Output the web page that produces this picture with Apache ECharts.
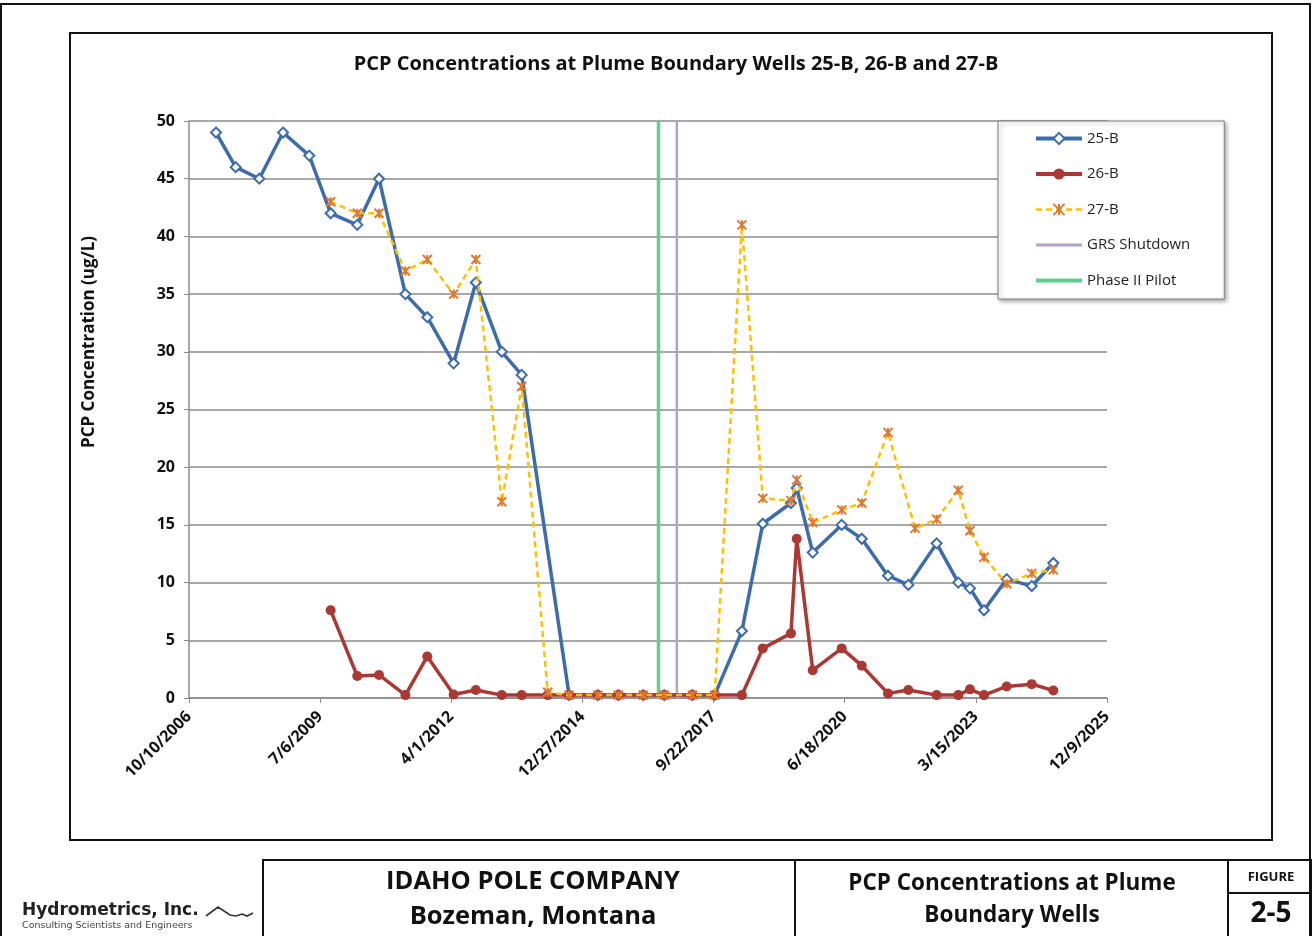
<!DOCTYPE html>
<html>
<head>
<meta charset="utf-8">
<title>PCP Concentrations at Plume Boundary Wells</title>
<script src="https://cdn.jsdelivr.net/npm/echarts@6/dist/echarts.min.js"></script>
<style>
  html, body { margin: 0; padding: 0; background: #fff; }
  #chart { width: 1312px; height: 936px; }
</style>
</head>
<body>
<div id="chart"></div>
<script>
// sample dates and PCP results (ug/L)
var dates25 = ['2007-05-04','2007-10-01','2008-03-29','2008-09-26','2009-04-14','2009-09-24','2010-04-15',
  '2010-09-28','2011-04-17','2011-10-01','2012-04-19','2012-10-05','2013-04-21','2013-09-20',
  '2014-09-16','2015-04-23','2015-09-27','2016-04-04','2016-09-11','2017-04-13','2017-09-30',
  '2018-04-26','2018-10-02','2019-05-05','2019-06-18','2019-10-18','2020-05-26','2020-10-26',
  '2021-05-14','2021-10-16','2022-05-20','2022-11-01','2023-01-29','2023-05-16','2023-11-05',
  '2024-05-14','2024-10-26'];
var pcp25 = [49, 46, 45, 49, 47, 42, 41,
  45, 35, 33, 29, 36, 30, 28,
  0.25, 0.25, 0.25, 0.25, 0.25, 0.25, 0.25,
  5.8, 15.1, 16.9, 18.2, 12.6, 15.0, 13.8,
  10.6, 9.8, 13.4, 10.0, 9.5, 7.6, 10.3,
  9.7, 11.7];

var dates26 = ['2009-09-24','2010-04-15','2010-09-28','2011-04-17','2011-10-01','2012-04-19','2012-10-05',
  '2013-04-21','2013-09-20','2014-04-06','2014-09-16','2015-04-23','2015-09-27','2016-04-04',
  '2016-09-11','2017-04-13','2017-09-30','2018-04-26','2018-10-02','2019-05-05','2019-06-18',
  '2019-10-18','2020-05-26','2020-10-26','2021-05-14','2021-10-16','2022-05-20','2022-11-01',
  '2023-01-29','2023-05-16','2023-11-05','2024-05-14','2024-10-26'];
var pcp26 = [7.6, 1.9, 2.0, 0.25, 3.6, 0.3, 0.7,
  0.25, 0.25, 0.25, 0.25, 0.25, 0.25, 0.25,
  0.25, 0.25, 0.25, 0.25, 4.3, 5.6, 13.8,
  2.4, 4.3, 2.8, 0.4, 0.7, 0.25, 0.25,
  0.75, 0.25, 1.0, 1.2, 0.65];

var dates27 = ['2009-09-24','2010-04-15','2010-09-28','2011-04-17','2011-10-01','2012-04-19','2012-10-05',
  '2013-04-21','2013-09-20','2014-04-06','2014-09-16','2015-04-23','2015-09-27','2016-04-04',
  '2016-09-11','2017-04-13','2017-09-30','2018-04-26','2018-10-02','2019-05-05','2019-06-18',
  '2019-10-18','2020-05-26','2020-10-26','2021-05-14','2021-12-06','2022-05-20','2022-11-01',
  '2023-01-29','2023-05-16','2023-11-05','2024-05-14','2024-10-26'];
var pcp27 = [43, 42, 42, 37, 38, 35, 38,
  17, 27, 0.5, 0.25, 0.25, 0.25, 0.25,
  0.25, 0.25, 0.25, 41, 17.3, 17.1, 18.9,
  15.2, 16.3, 16.9, 23.0, 14.7, 15.5, 18.0,
  14.5, 12.2, 9.9, 10.8, 11.1];

// event lines
var grsShutdownDate = '2016-12-16';
var phase2PilotDate = '2016-07-29';

// axes: Excel date axis, 1000 day major unit
var axisStartDate = '2006-10-10';
var axisDays = 7000;
var tickDays = 1000;
var yMax = 50;
var yStep = 5;

var DAY = 86400000;
var base = Date.parse(axisStartDate + 'T00:00:00Z');

function toDay(s) {
  return Math.round((Date.parse(s + 'T00:00:00Z') - base) / DAY);
}
function dayLabel(v) {
  var d = new Date(base + v * DAY);
  return (d.getUTCMonth() + 1) + '/' + d.getUTCDate() + '/' + d.getUTCFullYear();
}
function pairs(ds, vs) {
  return ds.map(function (d, i) { return [toDay(d), vs[i]]; });
}

var FONT = '"Open Sans", "Noto Sans", sans-serif';
var blue = '#3c6cab';
var red = '#ab3833';
var yellow = '#ffc000';
var orange = '#e2782f';
var green = '#66cc8f';
var purple = '#b3a2cc';

var chart = echarts.init(document.getElementById('chart'));

var option = {
  backgroundColor: '#fff',
  animation: false,
  title: {
    text: 'PCP Concentrations at Plume Boundary Wells 25-B, 26-B and 27-B',
    left: 671,
    top: 49,
    textAlign: 'center',
    textStyle: { fontFamily: FONT, fontSize: 20, fontWeight: 'bold', color: '#111' }
  },
  legend: {
    orient: 'vertical',
    left: 998,
    top: 121,
    data: [
      { name: '25-B', lineStyle: { width: 4 } },
      { name: '26-B', lineStyle: { width: 4 } },
      { name: '27-B', lineStyle: { width: 2.5 } },
      // plain lines, no marker
      { name: 'GRS Shutdown', lineStyle: { width: 3 }, itemStyle: { opacity: 0 } },
      { name: 'Phase II Pilot', lineStyle: { width: 4 }, itemStyle: { opacity: 0 } }
    ],
    itemWidth: 46,
    itemHeight: 14,
    itemGap: 20.5,
    padding: [10, 34, 11, 36],
    backgroundColor: '#fff',
    borderColor: '#7f7f7f',
    borderWidth: 1,
    shadowBlur: 4,
    shadowColor: 'rgba(0,0,0,0.35)',
    shadowOffsetX: 2,
    shadowOffsetY: 2,
    textStyle: { fontFamily: FONT, fontSize: 15, color: '#222' }
  },
  grid: { left: 189, right: 205, top: 121, bottom: 238 },
  xAxis: {
    type: 'value',
    min: 0,
    max: axisDays,
    interval: tickDays,
    axisLine: { lineStyle: { color: '#8c8c8c', width: 1.5 } },
    axisTick: { show: true, length: 5, lineStyle: { color: '#8c8c8c' } },
    splitLine: { show: false },
    axisLabel: {
      rotate: 45,
      margin: 16,
      formatter: dayLabel,
      fontFamily: FONT, fontSize: 16, fontWeight: 'bold', color: '#111'
    }
  },
  yAxis: {
    type: 'value',
    min: 0,
    max: yMax,
    interval: yStep,
    axisLine: { show: true, lineStyle: { color: '#8c8c8c', width: 1.5 } },
    axisTick: { show: true, length: 5, lineStyle: { color: '#8c8c8c' } },
    splitLine: { lineStyle: { color: '#8c8c8c', width: 1.5 } },
    axisLabel: { margin: 14, fontFamily: FONT, fontSize: 16, fontWeight: 'bold', color: '#111' }
  },
  series: [
    {
      name: 'Phase II Pilot',
      type: 'line',
      data: [[toDay(phase2PilotDate), 0], [toDay(phase2PilotDate), yMax]],
      showSymbol: false,
      symbol: 'none',
      lineStyle: { color: green, width: 3.5 },
      itemStyle: { color: green },
      z: 1
    },
    {
      name: 'GRS Shutdown',
      type: 'line',
      data: [[toDay(grsShutdownDate), 0], [toDay(grsShutdownDate), yMax]],
      showSymbol: false,
      symbol: 'none',
      lineStyle: { color: purple, width: 2.5 },
      itemStyle: { color: purple },
      z: 1
    },
    {
      name: '25-B',
      type: 'line',
      data: pairs(dates25, pcp25),
      symbol: 'emptyDiamond',
      symbolSize: 10,
      lineStyle: { color: blue, width: 3.5 },
      itemStyle: { color: blue, borderWidth: 2 },
      z: 3
    },
    {
      name: '26-B',
      type: 'line',
      data: pairs(dates26, pcp26),
      symbol: 'circle',
      symbolSize: 10,
      lineStyle: { color: red, width: 3.5 },
      itemStyle: { color: red },
      z: 4
    },
    {
      name: '27-B',
      type: 'line',
      data: pairs(dates27, pcp27),
      symbol: 'path://M0,0L10,10M10,0L0,10M5,0L5,10',
      symbolSize: 9,
      lineStyle: { color: yellow, width: 2.5, type: [6, 4] },
      itemStyle: { color: orange, borderColor: orange, borderWidth: 2 },
      z: 5
    }
  ],
  graphic: [
    // page frame and chart frame
    { type: 'rect', silent: true, shape: { x: 1, y: 4, width: 1309, height: 945 },
      style: { fill: 'none', stroke: '#111', lineWidth: 2 } },
    { type: 'rect', silent: true, shape: { x: 70, y: 33, width: 1202, height: 807 },
      style: { fill: 'none', stroke: '#111', lineWidth: 2 } },
    // y axis title
    { type: 'text', silent: true, x: 89, y: 342, rotation: Math.PI / 2,
      style: { text: 'PCP Concentration (ug/L)', textAlign: 'center', textVerticalAlign: 'middle',
        font: 'bold 17px ' + FONT, fill: '#111' } },
    // title block
    { type: 'rect', silent: true, shape: { x: 263, y: 860, width: 1048, height: 90 },
      style: { fill: 'none', stroke: '#111', lineWidth: 2 } },
    { type: 'line', silent: true, shape: { x1: 795, y1: 860, x2: 795, y2: 936 },
      style: { stroke: '#111', lineWidth: 2 } },
    { type: 'line', silent: true, shape: { x1: 1228, y1: 860, x2: 1228, y2: 936 },
      style: { stroke: '#111', lineWidth: 2 } },
    { type: 'line', silent: true, shape: { x1: 1228, y1: 893, x2: 1311, y2: 893 },
      style: { stroke: '#111', lineWidth: 2 } },
    { type: 'text', silent: true, x: 533, y: 882,
      style: { text: 'IDAHO POLE COMPANY', textAlign: 'center', textVerticalAlign: 'middle',
        font: 'bold 25.5px ' + FONT, fill: '#111' } },
    { type: 'text', silent: true, x: 533, y: 917,
      style: { text: 'Bozeman, Montana', textAlign: 'center', textVerticalAlign: 'middle',
        font: 'bold 25.5px ' + FONT, fill: '#111' } },
    { type: 'text', silent: true, x: 1012, y: 884,
      style: { text: 'PCP Concentrations at Plume', textAlign: 'center', textVerticalAlign: 'middle',
        font: 'bold 22.5px ' + FONT, fill: '#111' } },
    { type: 'text', silent: true, x: 1012, y: 916,
      style: { text: 'Boundary Wells', textAlign: 'center', textVerticalAlign: 'middle',
        font: 'bold 22.5px ' + FONT, fill: '#111' } },
    { type: 'text', silent: true, x: 1271, y: 877,
      style: { text: 'FIGURE', textAlign: 'center', textVerticalAlign: 'middle',
        font: 'bold 13px ' + FONT, fill: '#111' } },
    { type: 'text', silent: true, x: 1271, y: 914,
      style: { text: '2-5', textAlign: 'center', textVerticalAlign: 'middle',
        font: 'bold 28px ' + FONT, fill: '#111' } },
    // company logo
    { type: 'text', silent: true, x: 22, y: 911,
      style: { text: 'Hydrometrics, Inc.', textAlign: 'left', textVerticalAlign: 'middle',
        font: 'bold 17px "DejaVu Sans", sans-serif', fill: '#222' } },
    { type: 'text', silent: true, x: 22, y: 926,
      style: { text: 'Consulting Scientists and Engineers', textAlign: 'left', textVerticalAlign: 'middle',
        font: '9.5px "DejaVu Sans", sans-serif', fill: '#444' } },
    { type: 'polyline', silent: true,
      shape: { points: [[206, 916], [218, 907], [230, 915], [236, 916], [242, 914], [247, 916], [253, 913]] },
      style: { fill: 'none', stroke: '#333', lineWidth: 1.6 } }
  ]
};

chart.setOption(option);
</script>
</body>
</html>
